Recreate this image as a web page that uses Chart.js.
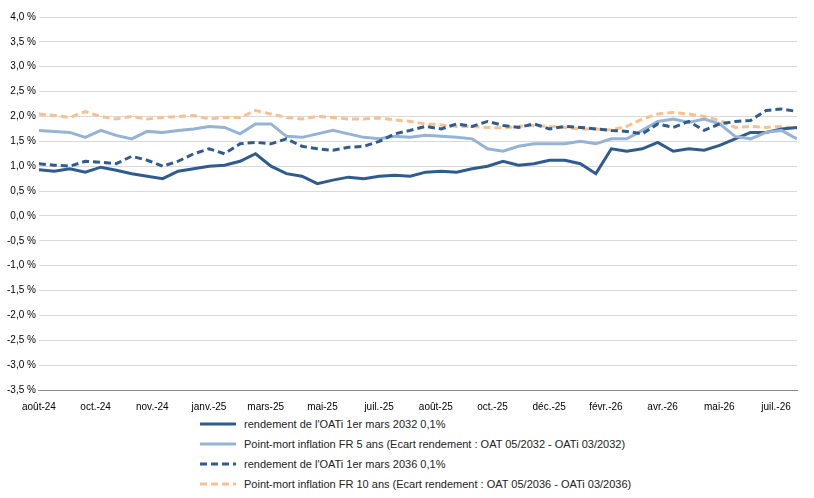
<!DOCTYPE html>
<html>
<head>
<meta charset="utf-8">
<script src="https://cdn.jsdelivr.net/npm/chart.js@4/dist/chart.umd.min.js"></script>
<style>
  body { margin: 0; background: #fff; font-family: 'Liberation Sans', Arial, sans-serif; }
  #wrap { position: relative; width: 814px; height: 416px; }
  #legend { margin: -2px 0 0 200px; padding: 0; list-style: none; font-size: 11px; color: #222; }
  #legend li { display: flex; align-items: center; height: 20px; }
  #legend svg { margin-right: 8px; }
</style>
</head>
<body>
<div id="wrap"><canvas id="chart"></canvas></div>
<ul id="legend"></ul>
<script>
const monthLabels = ['août-24', 'oct.-24', 'nov.-24', 'janv.-25', 'mars-25', 'mai-25', 'juil.-25',
  'août-25', 'oct.-25', 'déc.-25', 'févr.-26', 'avr.-26', 'mai-26', 'juil.-26']
const xEnd = 13.37

const oati2032 = [0.93,0.90,0.95,0.88,0.98,0.92,0.85,0.80,0.75,0.90,0.95,1.00,1.02,1.10,1.25,1.00,0.85,0.80,0.65,0.72,
  0.78,0.75,0.80,0.82,0.80,0.88,0.90,0.88,0.95,1.00,1.10,1.02,1.05,1.12,1.12,1.05,0.85,1.35,1.30,1.35,
  1.48,1.30,1.35,1.32,1.42,1.55,1.68,1.68,1.75,1.78]
const pm5ans = [1.72,1.70,1.68,1.58,1.72,1.62,1.55,1.70,1.68,1.72,1.75,1.80,1.78,1.65,1.85,1.85,1.60,1.58,1.65,1.72,
  1.65,1.58,1.55,1.60,1.58,1.62,1.60,1.58,1.55,1.35,1.30,1.40,1.45,1.45,1.45,1.50,1.45,1.55,1.55,1.72,
  1.90,1.95,1.88,1.95,1.85,1.60,1.55,1.68,1.72,1.55]
const oati2036 = [1.05,1.02,1.00,1.10,1.08,1.05,1.20,1.12,1.00,1.10,1.25,1.35,1.25,1.45,1.48,1.45,1.55,1.40,1.35,1.32,
  1.38,1.40,1.50,1.65,1.72,1.80,1.75,1.85,1.80,1.90,1.82,1.78,1.85,1.75,1.80,1.78,1.75,1.72,1.70,1.65,
  1.85,1.78,1.90,1.72,1.85,1.90,1.92,2.12,2.15,2.10]
const pm10ans = [2.05,2.02,1.98,2.10,2.00,1.95,2.00,1.95,1.98,2.00,2.02,1.95,1.98,1.98,2.12,2.05,1.98,1.95,2.00,1.98,
  1.95,1.95,1.97,1.93,1.90,1.85,1.83,1.80,1.80,1.78,1.77,1.80,1.82,1.80,1.78,1.75,1.75,1.73,1.80,1.95,
  2.05,2.08,2.05,2.00,1.92,1.78,1.80,1.78,1.80,1.75]

const seriesNames = [
  "rendement de l'OATi 1er mars 2032 0,1%",
  'Point-mort inflation FR 5 ans (Ecart rendement : OAT 05/2032 - OATi 03/2032)',
  "rendement de l'OATi 1er mars 2036 0,1%",
  'Point-mort inflation FR 10 ans (Ecart rendement : OAT 05/2036 - OATi 03/2036)',
]
const seriesColors = ['#2f5b8f', '#95b3d7', '#2f5b8f', '#fac08f']
const seriesDash = [[], [], [7, 4], [7, 4]]
const seriesValues = [oati2032, pm5ans, oati2036, pm10ans]

const toPoints = (arr) => arr.map((v, i) => ({ x: i * xEnd / (arr.length - 1), y: v }))

const datasets = seriesValues.map((vals, i) => ({
  label: seriesNames[i],
  data: toPoints(vals),
  borderColor: seriesColors[i],
  backgroundColor: seriesColors[i],
  borderWidth: 3,
  borderDash: seriesDash[i],
  pointRadius: 0,
  tension: 0,
  order: i === 3 ? 5 : 4 - i,
}))

const tickFont = { family: 'Liberation Sans', size: 10 }

new Chart(document.getElementById('chart'), {
  type: 'line',
  data: { datasets },
  options: {
    responsive: true,
    maintainAspectRatio: false,
    animation: false,
    layout: { padding: { top: 17, right: 17, left: 4, bottom: 0 } },
    scales: {
      x: {
        type: 'linear',
        min: 0,
        max: xEnd,
        afterBuildTicks: (axis) => {
          axis.ticks = monthLabels.map((_, i) => ({ value: i }))
        },
        ticks: {
          autoSkip: false,
          maxRotation: 0,
          color: '#000',
          font: tickFont,
          callback: (v) => monthLabels[v],
        },
        grid: { display: false },
        border: { color: '#888' },
      },
      y: {
        min: -3.5,
        max: 4,
        ticks: {
          stepSize: 0.5,
          color: '#000',
          font: tickFont,
          callback: (v) => v.toFixed(1).replace('.', ',') + ' %',
        },
        grid: { color: '#d9d9d9', drawTicks: false },
        border: { display: false },
      },
    },
    plugins: { legend: { display: false }, tooltip: { enabled: false } },
  },
})

// legend below the chart, one row per series
const ul = document.getElementById('legend')
seriesNames.forEach((name, i) => {
  const li = document.createElement('li')
  const dash = seriesDash[i].length ? 'stroke-dasharray="7 4"' : ''
  li.innerHTML = `<svg width="36" height="6"><line x1="0" y1="3" x2="36" y2="3" stroke="${seriesColors[i]}" stroke-width="3" ${dash}/></svg>`
  const span = document.createElement('span')
  span.textContent = name
  li.appendChild(span)
  ul.appendChild(li)
})
</script>
</body>
</html>
